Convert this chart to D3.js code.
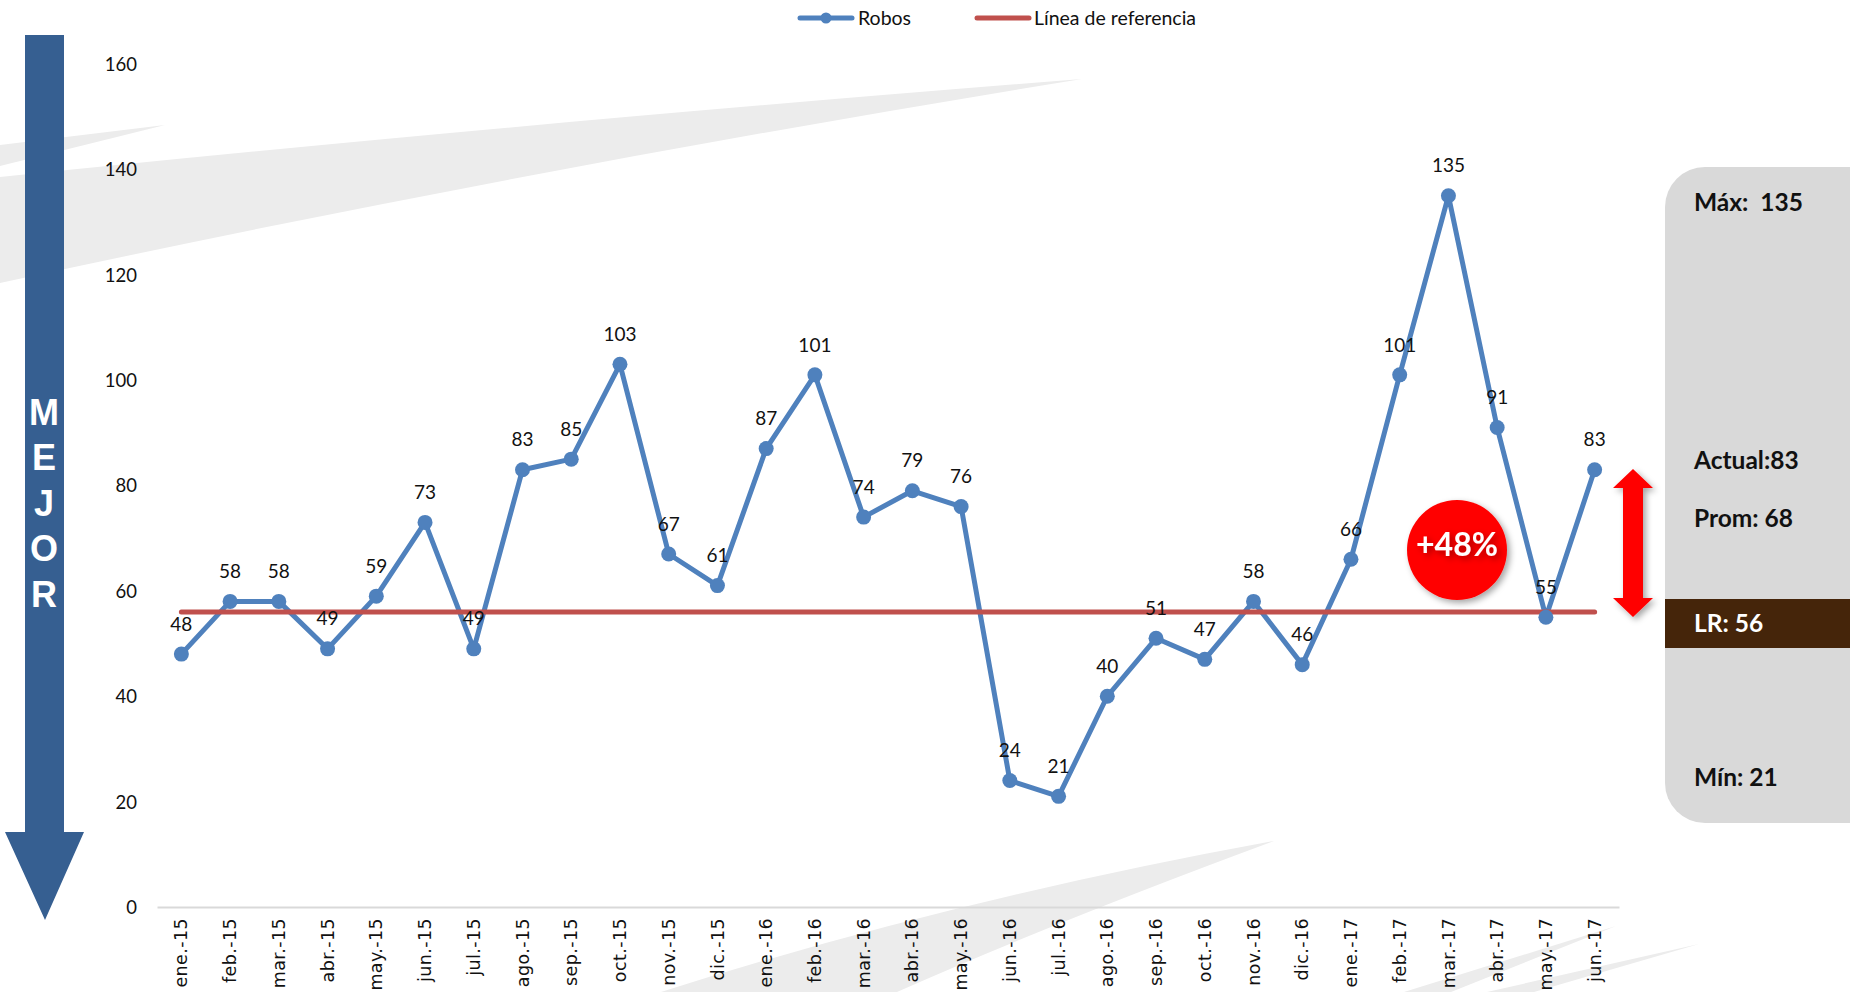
<!DOCTYPE html>
<html>
<head>
<meta charset="utf-8">
<script src="https://cdn.jsdelivr.net/npm/d3@7"></script>
<style>
  html, body { margin: 0; padding: 0; background: #fff; }
  svg { display: block; }
</style>
</head>
<body>
<div id="chart"></div>
<script>
// ---- data ----
const months = ["ene.-15","feb.-15","mar.-15","abr.-15","may.-15","jun.-15","jul.-15","ago.-15","sep.-15","oct.-15","nov.-15","dic.-15",
                "ene.-16","feb.-16","mar.-16","abr.-16","may.-16","jun.-16","jul.-16","ago.-16","sep.-16","oct.-16","nov.-16","dic.-16",
                "ene.-17","feb.-17","mar.-17","abr.-17","may.-17","jun.-17"];
const robos = [48,58,58,49,59,73,49,83,85,103,67,61,87,101,74,79,76,24,21,40,51,47,58,46,66,101,135,91,55,83];
const referencia = 56;
const yTicks = [0,20,40,60,80,100,120,140,160];
const seriesNames = ["Robos","Línea de referencia"];
const statLabels = ["Máx:  135","Actual:83","Prom: 68","LR: 56","Mín: 21"];
const changeLabel = "+48%";
const sideWord = ["M","E","J","O","R"];

// ---- layout ----
const W = 1850, H = 992;
const svg = d3.select("#chart").append("svg").attr("width", W).attr("height", H);

const defs = svg.append("defs");
const f = defs.append("filter").attr("id","shadow").attr("x","-30%").attr("y","-30%").attr("width","160%").attr("height","160%");
f.append("feDropShadow").attr("dx",3).attr("dy",3).attr("stdDeviation",3).attr("flood-color","#000").attr("flood-opacity",0.35);

// background decorative swooshes
const sw = svg.append("g").attr("fill","#ececec");
sw.append("path").attr("d","M0,145 L165,125 L0,166 Z");
sw.append("path").attr("d","M0,177 Q500,125 1082,79 Q520,170 0,283 Z");
sw.append("path").attr("d","M661,992 Q950,900 1274,841 Q1060,920 897,992 Z");
sw.append("path").attr("d","M1404,992 L1616,926 L1451,992 Z");
sw.append("path").attr("d","M1487,992 L1699,944 L1534,992 Z");

const x = d3.scaleBand().domain(months).range([157, 1619]).padding(0);
const y = d3.scaleLinear().domain([0,160]).range([907, 64]);
const cx = d => x(d) + x.bandwidth()/2;

// y axis labels
const yAxis = d3.axisLeft(y).tickValues(yTicks).tickSize(0).tickPadding(0);
const yg = svg.append("g").attr("transform","translate(137,0)").call(yAxis);
yg.select(".domain").remove();
yg.selectAll("text").attr("font-family","Lato, 'Open Sans', sans-serif").attr("font-size",18.5).attr("fill","#111").attr("dy","0.35em");

// x axis
const xAxis = d3.axisBottom(x).tickSize(0).tickPadding(0);
const xg = svg.append("g").attr("transform","translate(0,907)").call(xAxis);
xg.select(".domain").attr("stroke","#d9d9d9").attr("stroke-width",2);
xg.selectAll("text")
  .attr("font-family","'DejaVu Sans', Verdana, sans-serif").attr("font-size",17.5).attr("fill","#111")
  .attr("letter-spacing","0.4px")
  .attr("text-anchor","end").attr("dy","0.35em")
  .attr("transform","translate(0,11) rotate(-90)")
  .attr("x",0).attr("y",0);

// series line
const line = d3.line().x((d,i)=>cx(months[i])).y(d=>y(d));
svg.append("path").datum(robos).attr("d", line)
  .attr("fill","none").attr("stroke","#4F81BD").attr("stroke-width",5).attr("stroke-linejoin","round");

// reference line
svg.append("line")
  .attr("x1", cx(months[0])).attr("x2", cx(months[months.length-1]))
  .attr("y1", y(referencia)).attr("y2", y(referencia))
  .attr("stroke","#C0504D").attr("stroke-width",5).attr("stroke-linecap","round");

// markers
svg.append("g").selectAll("circle").data(robos).join("circle")
  .attr("cx",(d,i)=>cx(months[i])).attr("cy",d=>y(d)).attr("r",7.5).attr("fill","#4F81BD");

// data labels
svg.append("g").selectAll("text").data(robos).join("text")
  .attr("x",(d,i)=>cx(months[i])).attr("y",d=>y(d)-30).attr("dy","0.35em")
  .attr("text-anchor","middle").attr("font-family","Lato, 'Open Sans', sans-serif").attr("font-size",19).attr("fill","#111")
  .text(d=>d);

// legend
const lg = svg.append("g").attr("font-family","Lato, 'Open Sans', sans-serif").attr("font-size",19.5).attr("fill","#111");
lg.append("line").attr("x1",800).attr("x2",852).attr("y1",18).attr("y2",18).attr("stroke","#4F81BD").attr("stroke-width",5).attr("stroke-linecap","round");
lg.append("circle").attr("cx",826).attr("cy",18).attr("r",5.5).attr("fill","#4F81BD");
lg.append("text").attr("x",858).attr("y",18).attr("dy","0.35em").text(seriesNames[0]);
lg.append("line").attr("x1",977).attr("x2",1029).attr("y1",18).attr("y2",18).attr("stroke","#C0504D").attr("stroke-width",5).attr("stroke-linecap","round");
lg.append("text").attr("x",1034).attr("y",18).attr("dy","0.35em").text(seriesNames[1]);

// left arrow "MEJOR"
svg.append("path").attr("d","M25,35 L64,35 L64,832 L84,832 L45,920 L5,832 L25,832 Z").attr("fill","#365F91");
svg.append("g").selectAll("text").data(sideWord).join("text")
  .attr("x",44).attr("y",(d,i)=>412 + i*45.5).attr("dy","0.36em").attr("text-anchor","middle")
  .attr("font-family","'Liberation Sans', Arial, sans-serif").attr("font-weight","bold").attr("font-size",36).attr("fill","#fff")
  .text(d=>d);

// right panel
svg.append("rect").attr("x",1665).attr("y",167).attr("width",260).attr("height",656).attr("rx",40).attr("fill","#D9D9D9");
svg.append("rect").attr("x",1665).attr("y",599).attr("width",185).attr("height",49).attr("fill","#45250A");
const statY = [211, 469, 527, 632, 786];
svg.append("g").selectAll("text").data(statLabels).join("text")
  .attr("x",1694).attr("y",(d,i)=>statY[i]).attr("xml:space","preserve").style("white-space","pre")
  .attr("font-family","Lato, 'Noto Sans', sans-serif").attr("font-weight","bold").attr("font-size",24.5)
  .attr("fill",(d,i)=> i===3 ? "#fff" : "#111")
  .text(d=>d);

// red double arrow
svg.append("path").attr("d","M1633,469 L1653,488 L1643,488 L1643,598 L1653,598 L1633,617 L1613,598 L1623,598 L1623,488 L1613,488 Z")
  .attr("fill","#FF0000").attr("filter","url(#shadow)");

// +48% badge
svg.append("circle").attr("cx",1457).attr("cy",550).attr("r",50).attr("fill","#FF0000").attr("filter","url(#shadow)");
svg.append("text").attr("x",1457).attr("y",545).attr("dy","0.35em").attr("text-anchor","middle")
  .attr("font-family","Lato, 'Noto Sans', sans-serif").attr("font-weight","bold").attr("font-size",32).attr("fill","#fff")
  .attr("filter","url(#shadow)")
  .text(changeLabel);
</script>
</body>
</html>
